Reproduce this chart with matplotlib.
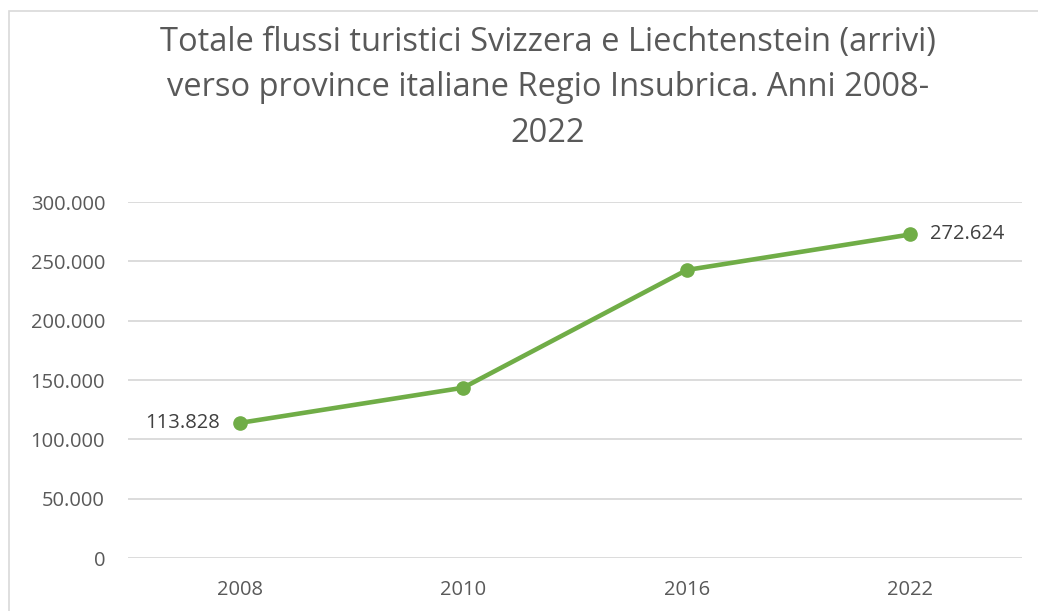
import matplotlib
matplotlib.use("Agg")
import matplotlib.pyplot as plt
from matplotlib.patches import Rectangle
from matplotlib.ticker import FuncFormatter, MultipleLocator

# Data
years = ["2008", "2010", "2016", "2022"]
arrivals = [113828, 143500, 242700, 272624]
labelled = {0: "left", 3: "right"}

title = ("Totale flussi turistici Svizzera e Liechtenstein (arrivi)\n"
         "verso province italiane Regio Insubrica. Anni 2008-\n2022")

green = "#70AD47"
grey_text = "#595959"
grid_col = "#D9D9D9"

plt.rcParams["font.family"] = ["Open Sans", "DejaVu Sans"]


def thousands(v, pos=None):
    return f"{int(round(v)):,}".replace(",", ".")


def main():
    fig = plt.figure(figsize=(10.38, 6.11), dpi=100)
    W, H = 1038, 611
    ax = fig.add_axes([128 / W, (H - 558) / H, (1022 - 128) / W, (558 - 202) / H])

    # outer chart frame (cropped at right and bottom)
    fig.patches.append(Rectangle((9 / W, -0.1), 1.2, (H - 11) / H + 0.1,
                                 transform=fig.transFigure, fill=False,
                                 edgecolor=grid_col, linewidth=1.2))

    x = list(range(len(years)))
    ax.plot(x, arrivals, color=green, linewidth=3.3, marker="o",
            markersize=9.5, solid_capstyle="round", zorder=3)

    for i, side in labelled.items():
        off = -14 if side == "left" else 14
        ax.annotate(thousands(arrivals[i]), (x[i], arrivals[i]),
                    xytext=(off, 0), textcoords="offset points",
                    ha="right" if side == "left" else "left", va="center",
                    fontsize=14.5, color="#404040")

    ax.set_xlim(-0.5, len(years) - 0.5)
    ax.set_ylim(0, 300000)
    ax.yaxis.set_major_locator(MultipleLocator(50000))
    ax.yaxis.set_major_formatter(FuncFormatter(thousands))
    ax.set_xticks(x)
    ax.set_xticklabels(years)

    ax.grid(axis="y", color=grid_col, linewidth=1.3)
    ax.set_axisbelow(True)
    for s in ax.spines.values():
        s.set_visible(False)
    ax.tick_params(axis="both", length=0, labelsize=14.5, colors=grey_text)
    ax.tick_params(axis="y", pad=16.5)
    ax.tick_params(axis="x", pad=16)

    fig.text(548 / W, 1 - 88 / H, title, ha="center", va="center",
             fontsize=23.5, color=grey_text, linespacing=1.5)

    fig.savefig("out.png", dpi=100)


if __name__ == "__main__":
    main()
